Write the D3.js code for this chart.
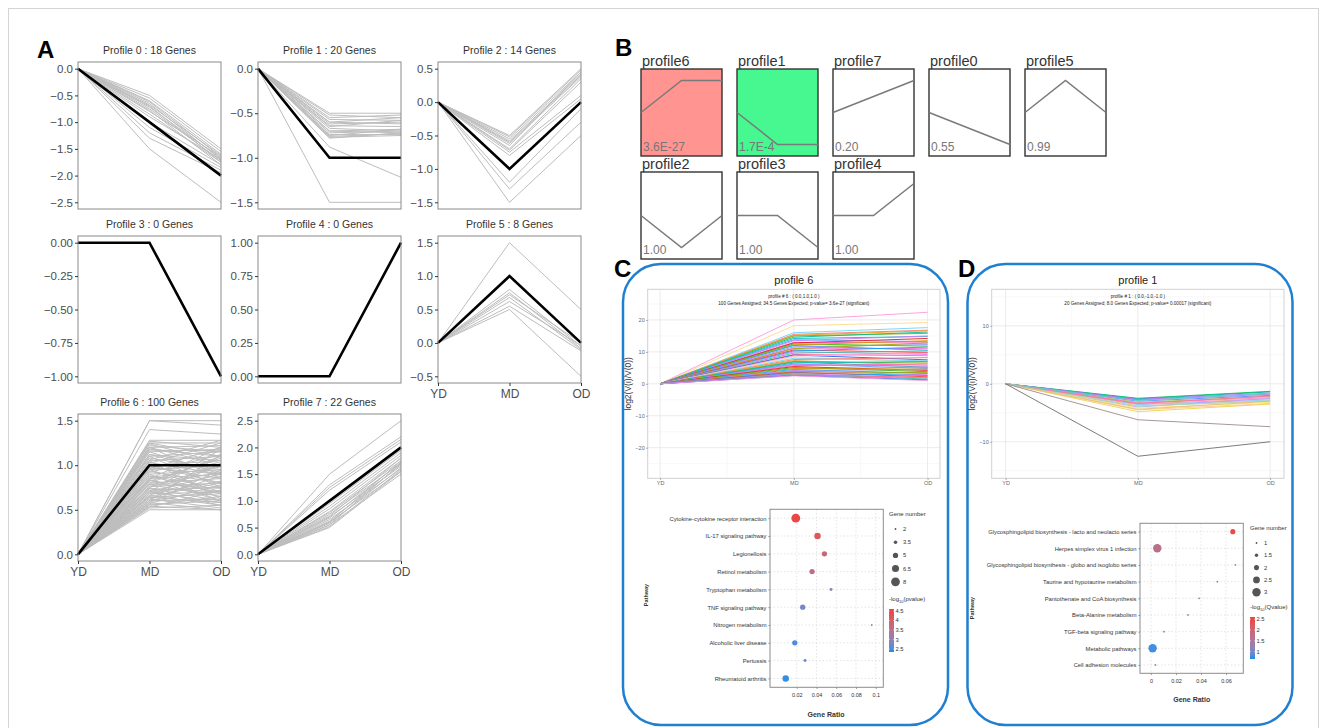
<!DOCTYPE html>
<html>
<head>
<meta charset="utf-8">
<script src="https://cdn.jsdelivr.net/npm/d3@7"></script>
<style>
  body { margin: 0; background: #fff; }
  svg { display: block; font-family: "Liberation Sans", Arial, sans-serif; }
</style>
</head>
<body>
<svg id="fig" width="1327" height="728"></svg>
<script>
// ---------- data ----------
var stages = ['YD', 'MD', 'OD'];

// panel A: model profiles (YD, MD, OD) and gene values [MD, OD] (YD is always 0)
var aTitles = ['Profile 0 : 18 Genes', 'Profile 1 : 20 Genes', 'Profile 2 : 14 Genes', 'Profile 3 : 0 Genes',
  'Profile 4 : 0 Genes', 'Profile 5 : 8 Genes', 'Profile 6 : 100 Genes', 'Profile 7 : 22 Genes'];
var aModels = [[0, -1, -2], [0, -1, -1], [0, -1, 0], [0, 0, -1], [0, 0, 1], [0, 1, 0], [0, 1, 1], [0, 1, 2]];
var aTicks = [
  [0, -0.5, -1, -1.5, -2, -2.5],
  [0, -0.5, -1, -1.5],
  [0.5, 0, -0.5, -1, -1.5],
  [0, -0.25, -0.5, -0.75, -1],
  [0, 0.25, 0.5, 0.75, 1],
  [1.5, 1, 0.5, 0, -0.5],
  [0, 0.5, 1, 1.5],
  [0, 0.5, 1, 1.5, 2, 2.5]
];
var genes0 = [[-0.5, -1.5], [-0.55, -1.55], [-0.6, -1.6], [-0.62, -1.65], [-0.65, -1.7], [-0.68, -1.62], [-0.7, -1.75],
  [-0.72, -1.68], [-0.75, -1.72], [-0.78, -1.8], [-0.8, -1.65], [-0.85, -1.75], [-0.9, -1.7], [-1.0, -1.8],
  [-1.1, -1.85], [-1.2, -1.9], [-1.3, -1.95], [-1.5, -2.5]];
var genes1 = [[-0.5, -0.5], [-0.52, -0.55], [-0.55, -0.52], [-0.57, -0.58], [-0.6, -0.55], [-0.6, -0.62], [-0.62, -0.6],
  [-0.64, -0.65], [-0.65, -0.58], [-0.67, -0.7], [-0.7, -0.68], [-0.7, -0.72], [-0.72, -0.7], [-0.74, -0.74],
  [-0.75, -0.68], [-0.76, -0.73], [-0.77, -0.75], [-0.78, -0.72], [-0.88, -1.22], [-1.5, -1.5]];
var genes2 = [[-0.5, 0.5], [-0.52, 0.48], [-0.55, 0.45], [-0.58, 0.42], [-0.6, 0.4], [-0.62, 0.38], [-0.65, 0.45],
  [-0.7, 0.35], [-0.72, 0.3], [-0.75, 0.1], [-0.8, 0.05], [-1.2, -0.1], [-1.3, -0.3], [-1.5, -0.5]];
var genes5 = [[1.5, 0.5], [0.8, -0.05], [0.75, -0.08], [0.72, 0.0], [0.68, -0.1], [0.62, -0.04], [0.55, -0.12], [0.5, -0.5]];
var genes6 = [[1.5, 1.5], [1.5, 1.45], [1.4, 1.35], [1.28, 1.28], [1.27, 1.2], [1.25, 1.25], [1.22, 1.15], [1.2, 1.22],
  [1.18, 1.1], [1.15, 1.18], [1.12, 1.05], [1.1, 1.15], [1.08, 0.95], [1.05, 1.1], [1.03, 0.9], [1.0, 1.05],
  [0.98, 0.85], [0.95, 1.0], [0.93, 0.8], [0.9, 0.95], [0.88, 0.75], [0.85, 0.9], [0.83, 0.7], [0.8, 0.85],
  [0.78, 0.65], [0.76, 0.8], [0.74, 0.6], [0.72, 0.75], [0.7, 0.58], [0.68, 0.7], [0.66, 0.55], [0.64, 0.68],
  [0.62, 0.52], [0.6, 0.62], [0.58, 0.5], [0.56, 0.6], [0.54, 0.5], [0.52, 0.55], [0.5, 0.5], [0.55, 0.65],
  [0.6, 0.72], [0.65, 0.8], [0.7, 0.9], [0.75, 1.0], [0.8, 1.1], [0.85, 1.2], [0.9, 0.6], [0.95, 0.7],
  [1.0, 0.8], [1.05, 0.62], [1.1, 0.75], [1.15, 0.9], [1.2, 1.0], [1.25, 1.1], [1.2, 0.85], [0.7, 1.18],
  [0.6, 1.12], [0.58, 0.95], [0.62, 0.88], [0.66, 1.02], [0.72, 0.55], [0.78, 0.92], [0.82, 1.08], [0.86, 0.98],
  [0.92, 1.12], [0.96, 1.2], [1.02, 1.25], [1.06, 1.28], [0.68, 0.82], [0.74, 0.7], [0.84, 0.6], [0.88, 0.68],
  [0.53, 0.72], [0.57, 0.78], [0.64, 0.58], [1.12, 0.92], [1.17, 1.16], [1.24, 1.02], [0.97, 0.9], [0.79, 0.74]];
var genes7 = [[1.5, 2.5], [1.3, 2.2], [1.25, 2.15], [1.2, 2.1], [0.95, 1.95], [0.9, 1.9], [0.85, 1.85], [0.8, 1.8],
  [0.78, 1.75], [0.75, 1.7], [0.72, 1.8], [0.7, 1.65], [0.68, 1.72], [0.65, 1.6], [0.62, 1.68], [0.6, 1.55],
  [0.58, 1.62], [0.55, 1.5], [0.52, 1.58], [0.5, 1.55], [0.55, 1.7], [0.6, 1.75]];
var aGenes = [genes0, genes1, genes2, [], [], genes5, genes6, genes7];

// panel B: significance ordering
var bNames = ['profile6', 'profile1', 'profile7', 'profile0', 'profile5', 'profile2', 'profile3', 'profile4'];
var bProfile = [6, 1, 7, 0, 5, 2, 3, 4];
var bPvals = ['3.6E-27', '1.7E-4', '0.20', '0.55', '0.99', '1.00', '1.00', '1.00'];

// panel C: profile 6 gene trends [MD, OD]
var cLines = [[20.0, 22.4], [18.2, 19.2], [16.0, 17.6], [15.5, 16.8], [15.2, 16.6], [15.0, 15.8], [14.6, 16.2],
  [14.2, 14.8], [13.8, 13.2], [13.5, 15.0], [13.0, 12.8], [12.8, 14.2], [12.5, 11.8], [12.2, 13.5], [12.0, 10.5],
  [11.6, 12.3], [11.2, 11.0], [11.0, 12.8], [10.6, 9.8], [10.3, 11.5], [10.0, 9.2], [9.6, 10.3], [9.2, 8.8],
  [9.0, 7.5], [8.7, 9.6], [8.4, 6.8], [8.0, 7.2], [7.6, 8.2], [7.3, 5.8], [7.0, 6.5], [6.8, 5.2], [6.5, 7.0],
  [6.2, 4.8], [6.0, 5.5], [5.7, 6.2], [5.4, 4.2], [5.1, 3.8], [4.8, 5.0], [4.5, 3.2], [4.2, 4.5], [4.0, 2.8],
  [3.8, 3.5], [3.6, 2.2], [3.4, 2.6], [3.2, 1.8], [3.0, 1.5], [2.8, 2.0], [2.6, 1.2], [2.5, 1.0]];
var cPalette = ['#ff99dd', '#ffd88f', '#6fd3f7', '#f8766d', '#f0a030', '#7cae00', '#00c08b', '#00bfc4', '#619cff',
  '#c77cff', '#ff61c3', '#e41a1c', '#39b600', '#d39200', '#00b0f6', '#9590ff', '#fb61d7', '#a3a500', '#ff3030',
  '#00a9ff', '#e76bf3', '#35c4a0', '#ff6c91', '#2060ff'];
var cPathways = ['Cytokine-cytokine receptor interaction', 'IL-17 signaling pathway', 'Legionellosis',
  'Retinol metabolism', 'Tryptophan metabolism', 'TNF signaling pathway', 'Nitrogen metabolism',
  'Alcoholic liver disease', 'Pertussis', 'Rheumatoid arthritis'];
var cRatio = [0.019, 0.041, 0.048, 0.0355, 0.0547, 0.026, 0.0959, 0.018, 0.0284, 0.0088];
var cCount = [8, 6, 5, 5, 3, 5, 2, 5, 3, 6];
var cLogP = [4.5, 4.2, 3.8, 3.6, 3.1, 2.8, 3.0, 2.5, 2.6, 2.4];
var cSizeLegend = [2, 3.5, 5, 6.5, 8];
var cColorLegend = [4.5, 4, 3.5, 3, 2.5];

// panel D: profile 1 gene trends [MD, OD]
var dLines = [[-2.5, -1.3], [-2.6, -1.4], [-2.7, -1.6], [-2.8, -1.8], [-3.0, -2.0], [-3.2, -2.2], [-3.3, -2.4],
  [-3.5, -2.6], [-3.6, -2.8], [-3.8, -3.0], [-4.0, -2.5], [-4.2, -3.2], [-4.5, -3.4], [-4.8, -3.5], [-3.9, -2.9],
  [-3.4, -2.1], [-2.9, -1.7], [-4.4, -3.0], [-6.2, -7.4], [-12.5, -10.0]];
var dPalette = ['#00c050', '#00b8a0', '#b070ff', '#d060e0', '#5090ff', '#90d040', '#ff80c0', '#ff9080', '#80c8ff',
  '#ffb070', '#c0a0ff', '#ffe060', '#ffc890', '#f0d050', '#a0e0c0', '#ff70a0', '#60d0d0', '#e0c080', '#a08c8c', '#6e6e6e'];
var dPathways = ['Glycosphingolipid biosynthesis - lacto and neolacto series', 'Herpes simplex virus 1 infection',
  'Glycosphingolipid biosynthesis - globo and isoglobo series', 'Taurine and hypotaurine metabolism',
  'Pantothenate and CoA biosynthesis', 'Beta-Alanine metabolism', 'TGF-beta signaling pathway',
  'Metabolic pathways', 'Cell adhesion molecules'];
var dRatio = [0.0654, 0.005, 0.0675, 0.053, 0.0385, 0.0296, 0.0104, 0.0013, 0.0035];
var dCount = [2, 3, 1, 1, 1, 1, 1, 3, 1];
var dLogQ = [2.5, 1.7, 1.6, 1.5, 1.5, 1.4, 1.0, 0.75, 1.0];
var dSizeLegend = [1, 1.5, 2, 2.5, 3];
var dColorLegend = [2.5, 2, 1.5, 1];

// ---------- setup ----------
var svg = d3.select('#fig');
var defs = svg.append('defs');

// light frame round the whole figure
svg.append('rect').attr('x', 8.5).attr('y', 8.5).attr('width', 1310).attr('height', 740)
  .attr('fill', 'none').attr('stroke', '#d4d4d4').attr('stroke-width', 1);

function panelLetter(t, x, y) {
  svg.append('text').attr('x', x).attr('y', y).text(t)
    .attr('font-size', 24).attr('font-weight', 'bold').attr('fill', '#000');
}
panelLetter('A', 37, 58);
panelLetter('B', 615, 56);
panelLetter('C', 614, 277);
panelLetter('D', 958, 277);

// ---------- panel A ----------
var aCols = [78, 258, 438];
var aRows = [62, 236, 414];
var aW = 143, aH = 147;

function drawProfile(i) {
  var x0 = aCols[i % 3], y0 = aRows[Math.floor(i / 3)];
  var genes = aGenes[i].map(function (d) { return [0, d[0], d[1]]; });
  var vals = d3.merge(genes).concat(aModels[i]);
  var ext = d3.extent(vals), pad = (ext[1] - ext[0]) * 0.05;
  var y = d3.scaleLinear().domain([ext[0] - pad, ext[1] + pad]).range([y0 + aH, y0]);
  var x = d3.scalePoint().domain(stages).range([x0, x0 + aW]);
  var line = d3.line().x(function (d, j) { return x(stages[j]); }).y(function (d) { return y(d); });

  var g = svg.append('g').attr('class', 'profile');
  g.selectAll('path.gene').data(genes).enter().append('path')
    .attr('class', 'gene').attr('d', line)
    .attr('fill', 'none').attr('stroke', '#bdbdbd').attr('stroke-width', 1);
  g.append('path').datum(aModels[i]).attr('d', line)
    .attr('fill', 'none').attr('stroke', '#000').attr('stroke-width', 2.6);
  g.append('rect').attr('x', x0).attr('y', y0).attr('width', aW).attr('height', aH)
    .attr('fill', 'none').attr('stroke', '#8a8a8a').attr('stroke-width', 1);

  var fmt = (i == 3 || i == 4) ? d3.format('.2f') : d3.format('.1f');
  var ax = g.append('g').attr('transform', 'translate(' + x0 + ',0)')
    .call(d3.axisLeft(y).tickValues(aTicks[i]).tickSize(3).tickPadding(2).tickFormat(fmt));
  ax.select('.domain').remove();
  ax.selectAll('line').attr('stroke', '#333');
  ax.selectAll('text').attr('fill', '#4d4d4d').attr('font-size', 11.5).attr('font-family', null);

  g.append('text').attr('x', x0 + aW / 2).attr('y', y0 - 8).attr('text-anchor', 'middle')
    .attr('font-size', 10.5).attr('fill', '#333').text(aTitles[i]);

  // x labels only on the bottom plot of each column
  if (i >= 5) {
    var bx = g.append('g').attr('transform', 'translate(0,' + (y0 + aH) + ')')
      .call(d3.axisBottom(x).tickSize(3).tickPadding(3));
    bx.select('.domain').remove();
    bx.selectAll('line').attr('stroke', '#333');
    bx.selectAll('text').attr('fill', '#4d4d4d').attr('font-size', 12).attr('font-family', null);
  }
}
d3.range(8).forEach(drawProfile);

// ---------- panel B ----------
var bLeft = [641, 737, 833, 929, 1025];
var bTop = [69, 172];
var bW = 81, bH = 87;
var bFill = { profile6: '#ff9490', profile1: '#46f88f' };

bNames.forEach(function (name, k) {
  var x0 = bLeft[k % 5], y0 = bTop[Math.floor(k / 5)];
  var model = aModels[bProfile[k]];
  var m = d3.max(model, function (v) { return Math.abs(v); });
  var y = d3.scaleLinear().domain([-1.36 * m, 1.36 * m]).range([y0 + bH, y0]);
  var x = d3.scalePoint().domain(stages).range([x0, x0 + bW]);
  var g = svg.append('g');
  g.append('rect').attr('x', x0).attr('y', y0).attr('width', bW).attr('height', bH)
    .attr('fill', bFill[name] || '#fff').attr('stroke', '#333').attr('stroke-width', 1.4);
  g.append('path').datum(model)
    .attr('d', d3.line().x(function (d, j) { return x(stages[j]); }).y(function (d) { return y(d); }))
    .attr('fill', 'none').attr('stroke', '#7a7a7a').attr('stroke-width', 1.5);
  g.append('text').attr('x', x0 + 1).attr('y', y0 - 3).attr('font-size', 14.5).attr('fill', '#333').text(name);
  g.append('text').attr('x', x0 + 2).attr('y', y0 + bH - 5).attr('font-size', 12).attr('fill', '#777').text(bPvals[k]);
});

// ---------- panels C, D: rounded frames ----------
function frame(x, w) {
  svg.append('rect').attr('x', x).attr('y', 264).attr('width', w).attr('height', 461)
    .attr('rx', 38).attr('ry', 38)
    .attr('fill', 'none').attr('stroke', '#1f7fd0').attr('stroke-width', 2.5);
}
frame(623, 325);
frame(967.5, 325);

// trend chart (ggplot theme_bw look)
function drawTrend(o) {
  var x = d3.scaleLinear().domain(o.xDomain).range([o.left, o.right]);
  var y = d3.scaleLinear().domain(o.yDomain).range([o.bottom, o.top]);
  var g = svg.append('g');

  g.selectAll('line.minY').data(o.yMinor).enter().append('line')
    .attr('x1', o.left).attr('x2', o.right).attr('y1', y).attr('y2', y)
    .attr('stroke', '#f3f3f3').attr('stroke-width', 0.6);
  g.selectAll('line.minX').data([0.5, 1.5]).enter().append('line')
    .attr('y1', o.top).attr('y2', o.bottom).attr('x1', x).attr('x2', x)
    .attr('stroke', '#f3f3f3').attr('stroke-width', 0.6);
  g.selectAll('line.majY').data(o.yTicks).enter().append('line')
    .attr('x1', o.left).attr('x2', o.right).attr('y1', y).attr('y2', y)
    .attr('stroke', '#e6e6e6').attr('stroke-width', 0.8);
  g.selectAll('line.majX').data([0, 1, 2]).enter().append('line')
    .attr('y1', o.top).attr('y2', o.bottom).attr('x1', x).attr('x2', x)
    .attr('stroke', '#e6e6e6').attr('stroke-width', 0.8);

  var line = d3.line().x(function (d, j) { return x(j); }).y(function (d) { return y(d); });
  g.selectAll('path.trend').data(o.lines.map(function (d) { return [0, d[0], d[1]]; })).enter()
    .append('path').attr('d', line)
    .attr('fill', 'none').attr('stroke-width', 1).attr('stroke-opacity', 0.9)
    .attr('stroke', function (d, j) { return o.palette[j % o.palette.length]; });

  g.append('rect').attr('x', o.left).attr('y', o.top)
    .attr('width', o.right - o.left).attr('height', o.bottom - o.top)
    .attr('fill', 'none').attr('stroke', '#d0d0d0').attr('stroke-width', 1);

  var ay = g.append('g').attr('transform', 'translate(' + o.left + ',0)')
    .call(d3.axisLeft(y).tickValues(o.yTicks).tickSize(1.5).tickPadding(1.5).tickFormat(d3.format('d')));
  ay.select('.domain').remove();
  ay.selectAll('line').attr('stroke', '#999');
  ay.selectAll('text').attr('fill', '#666').attr('font-size', 5.5).attr('font-family', null);

  var ax = g.append('g').attr('transform', 'translate(0,' + o.bottom + ')')
    .call(d3.axisBottom(x).tickValues([0, 1, 2]).tickSize(1.5).tickPadding(1.5)
      .tickFormat(function (d) { return stages[d]; }));
  ax.select('.domain').remove();
  ax.selectAll('line').attr('stroke', '#999');
  ax.selectAll('text').attr('fill', '#666').attr('font-size', 5.5).attr('font-family', null);

  var cx = (o.left + o.right) / 2;
  g.append('text').attr('x', cx).attr('y', o.top - 5).attr('text-anchor', 'middle')
    .attr('font-size', 11).attr('fill', '#222').text(o.title);
  g.append('text').attr('x', x(1)).attr('y', o.top + 9).attr('text-anchor', 'middle')
    .attr('font-size', 4.6).attr('fill', '#222').text(o.sub1);
  g.append('text').attr('x', x(1)).attr('y', o.top + 15.5).attr('text-anchor', 'middle')
    .attr('font-size', 4.6).attr('fill', '#222').text(o.sub2);
  g.append('text').attr('transform', 'translate(' + o.yLabelX + ',' + y(0) + ') rotate(-90)')
    .attr('text-anchor', 'middle').attr('font-size', 8.5).attr('fill', '#333').text('log2(V(i)/V(0))');
}

drawTrend({
  left: 647.7, right: 940, top: 289.3, bottom: 478.3,
  xDomain: [-0.093, 2.093], yDomain: [-29.6, 29.6],
  yTicks: [-20, -10, 0, 10, 20], yMinor: [-25, -15, -5, 5, 15, 25],
  lines: cLines, palette: cPalette, yLabelX: 631,
  title: 'profile 6',
  sub1: 'profile # 6 : ( 0.0,1.0,1.0 )',
  sub2: '100 Genes Assigned; 34.5 Genes Expected; p-value= 3.6e-27 (significant)'
});

drawTrend({
  left: 991.7, right: 1284, top: 289.3, bottom: 478.3,
  xDomain: [-0.105, 2.105], yDomain: [-16.3, 16.3],
  yTicks: [-10, 0, 10], yMinor: [-15, -5, 5, 15],
  lines: dLines, palette: dPalette, yLabelX: 974.5,
  title: 'profile 1',
  sub1: 'profile # 1 : ( 0.0,-1.0,-1.0 )',
  sub2: '20 Genes Assigned; 8.0 Genes Expected; p-value= 0.00017 (significant)'
});

// ---------- KEGG dot plots ----------
var gradId = 0;
function drawDots(o) {
  var x = d3.scaleLinear().domain(o.xDomain).range([o.left, o.right]);
  var y = d3.scalePoint().domain(o.pathways).range([o.top, o.bottom]).padding(0.5);
  var r = d3.scaleLinear().domain(o.sizeDomain).range(o.rRange);
  var col = d3.scaleLinear().domain(o.colDomain).range(['#1890e8', '#f0403e']).interpolate(d3.interpolateLab);
  var g = svg.append('g');

  g.selectAll('line.gy').data(o.pathways).enter().append('line')
    .attr('x1', o.left).attr('x2', o.right).attr('y1', y).attr('y2', y)
    .attr('stroke', '#d8d8d8').attr('stroke-width', 0.7).attr('stroke-dasharray', '1.5,2');
  g.selectAll('line.gx').data(o.xTicks).enter().append('line')
    .attr('y1', o.top).attr('y2', o.bottom).attr('x1', x).attr('x2', x)
    .attr('stroke', '#d8d8d8').attr('stroke-width', 0.7).attr('stroke-dasharray', '1.5,2');

  g.selectAll('circle.dot').data(o.pathways).enter().append('circle')
    .attr('cx', function (d, j) { return x(o.ratio[j]); })
    .attr('cy', function (d) { return y(d); })
    .attr('r', function (d, j) { return r(o.count[j]); })
    .attr('fill', function (d, j) { return col(o.logp[j]); });

  g.append('rect').attr('x', o.left).attr('y', o.top)
    .attr('width', o.right - o.left).attr('height', o.bottom - o.top)
    .attr('fill', 'none').attr('stroke', '#8c8c8c').attr('stroke-width', 1);

  var ay = g.append('g').attr('transform', 'translate(' + o.left + ',0)')
    .call(d3.axisLeft(y).tickSize(1.5).tickPadding(2));
  ay.select('.domain').remove();
  ay.selectAll('line').attr('stroke', '#888');
  ay.selectAll('text').attr('fill', '#333').attr('font-size', 5.8).attr('font-family', null);

  var ax = g.append('g').attr('transform', 'translate(0,' + o.bottom + ')')
    .call(d3.axisBottom(x).tickValues(o.xTicks).tickSize(1.5).tickPadding(4).tickFormat(d3.format('.2~f')));
  ax.select('.domain').remove();
  ax.selectAll('line').attr('stroke', '#888');
  ax.selectAll('text').attr('fill', '#333').attr('font-size', 5.5).attr('font-family', null);

  g.append('text').attr('x', o.xLabel[0]).attr('y', o.xLabel[1]).attr('text-anchor', 'middle')
    .attr('font-size', 7).attr('font-weight', 'bold').attr('fill', '#333').text('Gene Ratio');
  g.append('text').attr('transform', 'translate(' + o.yLabel[0] + ',' + o.yLabel[1] + ') rotate(-90)')
    .attr('text-anchor', 'middle').attr('font-size', 5.5).attr('font-weight', 'bold').attr('fill', '#333').text('Pathway');

  // size legend
  var lx = o.legendX;
  g.append('text').attr('x', lx).attr('y', o.sizeTitleY).attr('font-size', 6).attr('fill', '#333').text('Gene number');
  o.sizeLegend.forEach(function (v, j) {
    var cy = o.sizeTitleY + 13 + j * o.sizeStep;
    g.append('circle').attr('cx', lx + 6.5).attr('cy', cy).attr('r', r(v)).attr('fill', '#555');
    g.append('text').attr('x', lx + 14).attr('y', cy + 2).attr('font-size', 5.8).attr('fill', '#333').text(v);
  });

  // colour legend
  var t = g.append('text').attr('x', lx).attr('y', o.colTitleY).attr('font-size', 6).attr('fill', '#333');
  t.append('tspan').text('-log');
  t.append('tspan').attr('font-size', 4).attr('dy', 1.5).text('10');
  t.append('tspan').attr('dy', -1.5).text('(' + o.colName + ')');

  var id = 'grad' + (gradId++);
  var grad = defs.append('linearGradient').attr('id', id)
    .attr('x1', 0).attr('y1', 1).attr('x2', 0).attr('y2', 0);
  d3.range(0, 1.01, 0.1).forEach(function (p) {
    grad.append('stop').attr('offset', p)
      .attr('stop-color', col(o.colDomain[0] + p * (o.colDomain[1] - o.colDomain[0])));
  });
  var barTop = o.colTitleY + 8, barH = o.barH;
  var by = d3.scaleLinear().domain(o.colDomain).range([barTop + barH, barTop]);
  g.append('rect').attr('x', lx).attr('y', barTop).attr('width', 5).attr('height', barH)
    .attr('fill', 'url(#' + id + ')');
  o.colLegend.forEach(function (v) {
    g.append('line').attr('x1', lx).attr('x2', lx + 1).attr('y1', by(v)).attr('y2', by(v)).attr('stroke', '#fff').attr('stroke-width', 0.5);
    g.append('line').attr('x1', lx + 4).attr('x2', lx + 5).attr('y1', by(v)).attr('y2', by(v)).attr('stroke', '#fff').attr('stroke-width', 0.5);
    g.append('text').attr('x', lx + 6.5).attr('y', by(v) + 2).attr('font-size', 5.8).attr('fill', '#333').text(v);
  });
}

drawDots({
  left: 770, right: 883.3, top: 509.3, bottom: 687.3,
  xDomain: [-0.0071, 0.1076], xTicks: [0.02, 0.04, 0.06, 0.08, 0.1],
  pathways: cPathways, ratio: cRatio, count: cCount, logp: cLogP,
  sizeDomain: [2, 8], rRange: [0.9, 4.4], colDomain: [2.35, 4.6],
  xLabel: [826, 717], yLabel: [648, 595],
  legendX: 889, sizeTitleY: 516, sizeStep: 13.2, sizeLegend: cSizeLegend,
  colTitleY: 601, colName: 'pvalue', barH: 43, colLegend: cColorLegend
});

drawDots({
  left: 1140, right: 1243.3, top: 523.3, bottom: 673.3,
  xDomain: [-0.0088, 0.0738], xTicks: [0, 0.02, 0.04, 0.06],
  pathways: dPathways, ratio: dRatio, count: dCount, logp: dLogQ,
  sizeDomain: [1, 3], rRange: [0.9, 4.2], colDomain: [0.66, 2.6],
  xLabel: [1191.7, 702], yLabel: [974, 608],
  legendX: 1250, sizeTitleY: 530, sizeStep: 12.3, sizeLegend: dSizeLegend,
  colTitleY: 609, colName: 'Qvalue', barH: 42, colLegend: dColorLegend
});
</script>
</body>
</html>
